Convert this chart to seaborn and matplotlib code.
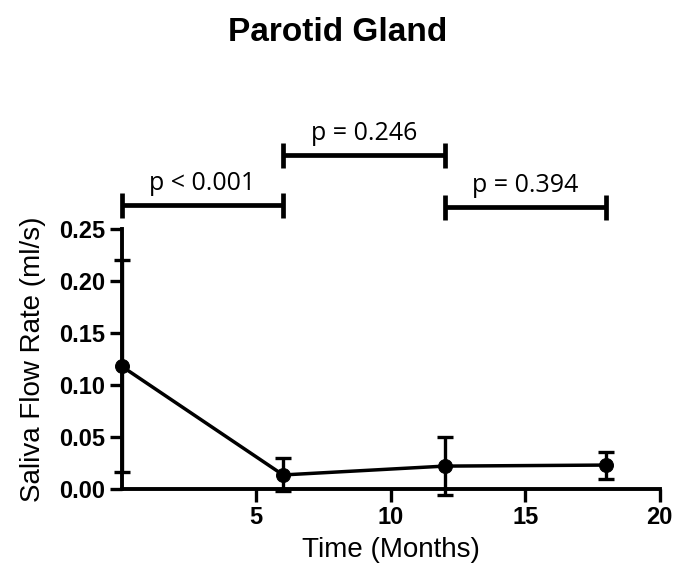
import pandas as pd
import matplotlib.pyplot as plt
import seaborn as sns

# Data
months = [0, 6, 12, 18]
flow_rate = [0.118, 0.0135, 0.022, 0.023]
err_low = [0.016, -0.002, -0.006, 0.0095]
err_high = [0.220, 0.030, 0.050, 0.036]

# Significance brackets: (start, end, level, label)
bracket_start = [0, 6, 12]
bracket_end = [6, 12, 18]
bracket_level = [0.273, 0.321, 0.271]
bracket_label = ["p < 0.001", "p = 0.246", "p = 0.394"]

df = pd.DataFrame({"months": months, "rate": flow_rate})

sns.set_style("ticks")
plt.rcParams["font.family"] = ["Liberation Sans", "DejaVu Sans"]
plt.rcParams["text.color"] = "black"
plt.rcParams["axes.labelcolor"] = "black"
plt.rcParams["xtick.color"] = "black"
plt.rcParams["ytick.color"] = "black"

fig = plt.figure(figsize=(6.76, 5.64), dpi=100)
ax = fig.add_axes([0.180, 0.133, 0.796, 0.461])

sns.lineplot(x="months", y="rate", data=df, ax=ax, color="black",
             linewidth=2.5, marker="o", markersize=10, markeredgecolor="black",
             clip_on=False, zorder=3)

yerr = [[r - lo for r, lo in zip(flow_rate, err_low)],
        [hi - r for r, hi in zip(flow_rate, err_high)]]
ax.errorbar(months, flow_rate, yerr=yerr, fmt="none", ecolor="black",
            elinewidth=2.4, capsize=6, capthick=2.4, clip_on=False, zorder=3)

ax.set_xlim(0, 20)
ax.set_ylim(0, 0.25)
ax.set_xticks([5, 10, 15, 20])
ax.set_yticks([0.00, 0.05, 0.10, 0.15, 0.20, 0.25])
ax.set_yticklabels([f"{v:.2f}" for v in ax.get_yticks()])

for lbl in ax.get_xticklabels() + ax.get_yticklabels():
    lbl.set_fontweight("bold")
ax.tick_params(axis="both", labelsize=17, width=2.4, length=9, pad=3)

for side in ["left", "bottom"]:
    ax.spines[side].set_linewidth(2.8)
    ax.spines[side].set_color("black")
sns.despine(ax=ax)

ax.set_xlabel("Time (Months)", fontsize=20, labelpad=6)
ax.set_ylabel("Saliva Flow Rate (ml/s)", fontsize=20, labelpad=9)

# brackets above the plot
cap = 0.012
for s, e, lv, txt in zip(bracket_start, bracket_end, bracket_level, bracket_label):
    ax.plot([s, e], [lv, lv], color="black", lw=3.4, clip_on=False,
            solid_capstyle="butt")
    for xx in (s, e):
        ax.plot([xx, xx], [lv - cap, lv + cap], color="black", lw=3.4,
                clip_on=False, solid_capstyle="butt")
    ax.text((s + e) / 2, lv + 0.009, txt, ha="center", va="bottom",
            fontsize=18, family=["Open Sans", "DejaVu Sans"])

fig.text(0.5, 0.943, "Parotid Gland", ha="center", va="center",
         fontsize=24, fontweight="bold")

fig.savefig("out.png", dpi=100)
